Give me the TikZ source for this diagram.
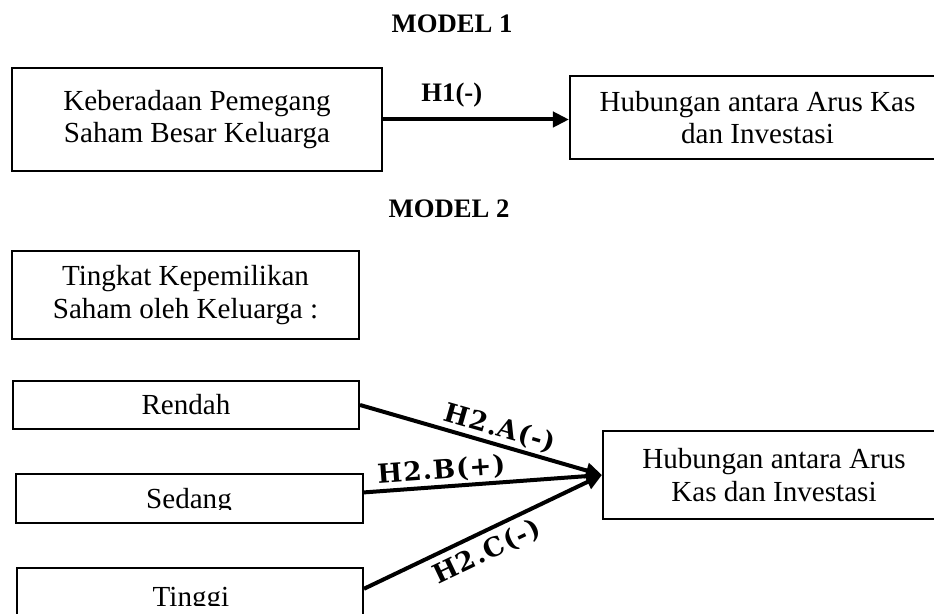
\documentclass[tikz,border=0pt]{standalone}
\usepackage{fontspec}
\setmainfont{Liberation Serif}
\newfontfamily\hfont{DejaVu Serif}[LetterSpace=4]
\usetikzlibrary{arrows.meta}
\begin{document}
\begin{tikzpicture}[x=0.5bp,y=-0.5bp,
  box/.style={draw, line width=1bp, inner sep=0pt, align=center,
    font=\fontsize{14.6}{16.5}\selectfont},
  plain/.style={inner sep=0pt, anchor=base, font=\fontsize{14.6}{16.5}\selectfont},
  title/.style={inner sep=0pt, anchor=base, font=\bfseries\fontsize{13.4}{15}\selectfont},
  link/.style={line width=2bp, -{Triangle[length=8bp,width=7.5bp]}},
  h1lab/.style={inner sep=0pt, font=\bfseries\fontsize{13.4}{15}\selectfont},
  hlab/.style={font=\hfont\bfseries\fontsize{13.2}{15}\selectfont, sloped, inner sep=1bp}
]
\useasboundingbox (0,0) rectangle (934,614);

% MODEL 1
\node[title] (t1) at (452,33) {MODEL 1};
\node[box, minimum width=185bp, minimum height=51.5bp] (src) at (197,119.5)
  {Keberadaan Pemegang\\Saham Besar Keluarga};
\node[box, minimum width=187.5bp, minimum height=41.5bp] (tgt1) at (757.5,117.5)
  {Hubungan antara Arus Kas\\dan Investasi};
\draw[link] (src.east) -- node[h1lab, above=5bp, pos=0.37] (h1) {H1(-)} (src.east -| tgt1.west);

% MODEL 2
\node[title] (t2) at (449,218) {MODEL 2};
\node[box, minimum width=173.5bp, minimum height=44bp] (tingkat) at (185.5,295)
  {Tingkat Kepemilikan\\Saham oleh Keluarga :};
\node[box, minimum width=173bp, minimum height=24bp] (rendah) at (186,405) {Rendah};
\node[draw, line width=1bp, inner sep=0pt, minimum width=173.5bp, minimum height=24.5bp] (sedangbox) at (189.5,498.5) {};
\begin{scope}
  \clip (16,470) rectangle (363,509.5);
  \node[plain] (sedang) at (189,509) {Sedang};
\end{scope}
\node[draw, line width=1bp, inner sep=0pt, minimum width=173bp, minimum height=36bp] (tinggibox) at (190,604) {};
\begin{scope}
  \clip (17,570) rectangle (363,605);
  \node[plain] (tinggi) at (191,606) {Tinggi};
\end{scope}
\node[box, minimum width=171bp, minimum height=44bp] (tgt2) at (774,475)
  {Hubungan antara Arus\\Kas dan Investasi};

\draw[link] (rendah.east) -- node[hlab, above, pos=0.56] (h2a) {H2.A(-)} (tgt2.west);
\draw[link] (sedangbox.2.5) -- node[hlab, above, pos=0.33] (h2b) {H2.B(+)} (tgt2.west);
\draw[link] (tinggibox.5.3) -- node[hlab, below=2bp, pos=0.48] (h2c) {H2.C(-)} (tgt2.west);
\end{tikzpicture}
\end{document}
